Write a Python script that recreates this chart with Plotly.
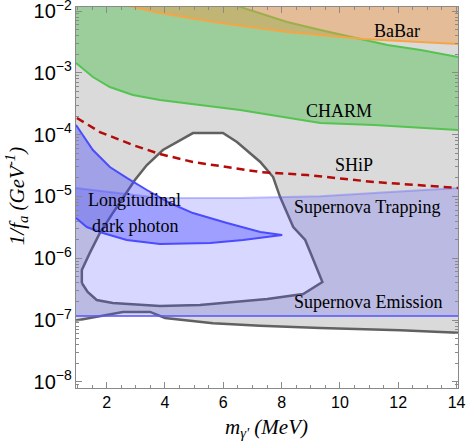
import math
import plotly.graph_objects as go

# ---- data (x in MeV, y in GeV^-1) ----
gray_low_x = [0.95, 2.56, 3.49, 4.0, 5.65, 7.26, 9.33, 12.08, 14.05]
gray_low_y = [9.8e-8, 1.35e-7, 1.35e-7, 1.08e-7, 8.9e-8, 8.1e-8, 7.4e-8, 6.8e-8, 6.2e-8]

island_x = [1.15, 1.15, 1.42, 1.77, 2.21, 2.97, 3.38, 3.93, 4.96, 5.99, 6.47, 7.27, 7.71,
            7.95, 8.40, 8.81, 8.98, 9.19, 9.40, 8.74, 7.51, 5.20, 3.83, 2.21, 1.66, 1.35, 1.15]
island_y = [3.97e-7, 6.44e-7, 1.21e-6, 2.56e-6, 5.38e-6, 1.84e-5, 3.22e-5, 5.64e-5, 1.06e-4,
            1.06e-4, 7.59e-5, 3.61e-5, 2.06e-5, 9.77e-6, 3.20e-6, 1.97e-6, 1.26e-6, 6.93e-7,
            4.12e-7, 2.64e-7, 2.19e-7, 1.75e-7, 1.69e-7, 1.88e-7, 2.11e-7, 2.84e-7, 3.97e-7]

sn_top_x = [0.95, 2.69, 3.83, 6.58, 9.33, 11.73, 14.05]
sn_top_y = [1.37e-5, 1.09e-5, 9.42e-6, 9.42e-6, 1.01e-5, 1.18e-5, 1.37e-5]
sn_bot_x = [0.95, 14.05]
sn_bot_y = [1.16e-7, 1.16e-7]

long_up_x = [0.95, 1.53, 2.11, 2.69, 3.38, 4.17, 4.96, 6.13, 7.27, 8.02]
long_up_y = [1.43e-4, 5.64e-5, 2.99e-5, 1.99e-5, 1.27e-5, 7.82e-6, 5.38e-6, 3.71e-6, 2.66e-6, 2.37e-6]
long_lo_x = [8.02, 6.68, 5.55, 3.83, 2.69, 1.87, 1.32, 0.95]
long_lo_y = [2.37e-6, 1.97e-6, 1.76e-6, 1.70e-6, 1.97e-6, 2.56e-6, 3.20e-6, 4.47e-6]

charm_lo_x = [0.95, 1.53, 2.11, 2.90, 3.83, 6.58, 9.33, 11.18, 14.05]
charm_lo_y = [1.44e-3, 8.55e-4, 5.89e-4, 4.37e-4, 3.63e-4, 2.50e-4, 1.54e-4, 1.43e-4, 1.19e-4]
charm_up_x = [5.5, 6.58, 8.19, 9.33, 10.80, 11.63, 12.77, 14.05]
charm_up_y = [1.7e-2, 1.16e-2, 6.64e-3, 4.93e-3, 3.40e-3, 2.82e-3, 2.34e-3, 1.80e-3]

babar_x = [2.0, 2.90, 3.83, 5.89, 8.19, 10.80, 14.05]
babar_y = [1.5e-2, 1.16e-2, 9.28e-3, 6.39e-3, 4.57e-3, 3.52e-3, 2.92e-3]

ship_x = [0.98, 1.77, 2.90, 3.83, 4.96, 6.13, 7.27, 8.88, 11.18, 14.05]
ship_y = [1.86e-4, 1.10e-4, 6.79e-5, 4.85e-5, 3.61e-5, 2.99e-5, 2.48e-5, 2.22e-5, 1.71e-5, 1.37e-5]

y_top = 0.1

labels = ["BaBar", "CHARM", "SHiP", "Supernova Trapping", "Supernova Emission",
          "Longitudinal", "dark photon"]
label_x = [11.97, 9.98, 10.48, 10.94, 10.97, 2.97, 2.97]
label_y = [4.74e-3, 2.41e-4, 3.22e-5, 6.73e-6, 1.95e-7, 8.75e-6, 3.32e-6]

serif = "Liberation Serif"
gline = "#616161"
fig = go.Figure()

# gray excluded region
fig.add_trace(go.Scatter(x=gray_low_x + gray_low_x[::-1],
                         y=gray_low_y + [y_top] * len(gray_low_x),
                         fill="toself", fillcolor="#dadada", line=dict(width=0),
                         mode="lines", hoverinfo="skip"))
# white island
fig.add_trace(go.Scatter(x=island_x, y=island_y, fill="toself", fillcolor="white",
                         line=dict(color=gline, width=2.5), mode="lines"))
fig.add_trace(go.Scatter(x=gray_low_x, y=gray_low_y, mode="lines",
                         line=dict(color=gline, width=2.5)))

# supernova band
fig.add_trace(go.Scatter(x=sn_top_x + sn_bot_x[::-1], y=sn_top_y + sn_bot_y[::-1],
                         fill="toself", fillcolor="rgba(80,80,255,0.23)",
                         line=dict(width=0), mode="lines"))
fig.add_trace(go.Scatter(x=sn_top_x, y=sn_top_y, mode="lines",
                         line=dict(color="rgba(90,90,255,0.35)", width=2)))
fig.add_trace(go.Scatter(x=sn_bot_x, y=sn_bot_y, mode="lines",
                         line=dict(color="rgba(90,90,255,0.8)", width=2)))

# longitudinal dark photon
fig.add_trace(go.Scatter(x=long_up_x + long_lo_x, y=long_up_y + long_lo_y,
                         fill="toself", fillcolor="rgba(60,60,255,0.36)",
                         line=dict(width=0), mode="lines"))
fig.add_trace(go.Scatter(x=long_up_x + long_lo_x, y=long_up_y + long_lo_y, mode="lines",
                         line=dict(color="rgb(75,75,255)", width=2)))

# CHARM
fig.add_trace(go.Scatter(x=charm_lo_x + charm_up_x[::-1] + [0.95],
                         y=charm_lo_y + charm_up_y[::-1] + [y_top],
                         fill="toself", fillcolor="rgba(80,190,80,0.45)",
                         line=dict(width=0), mode="lines"))
fig.add_trace(go.Scatter(x=charm_lo_x, y=charm_lo_y, mode="lines",
                         line=dict(color="rgb(85,195,80)", width=2)))
fig.add_trace(go.Scatter(x=charm_up_x, y=charm_up_y, mode="lines",
                         line=dict(color="rgb(85,195,80)", width=2)))

# BaBar
fig.add_trace(go.Scatter(x=babar_x + babar_x[::-1], y=babar_y + [y_top] * len(babar_x),
                         fill="toself", fillcolor="rgba(240,150,70,0.45)",
                         line=dict(width=0), mode="lines"))
fig.add_trace(go.Scatter(x=babar_x, y=babar_y, mode="lines",
                         line=dict(color="rgb(245,165,70)", width=2)))

# SHiP
fig.add_trace(go.Scatter(x=ship_x, y=ship_y, mode="lines",
                         line=dict(color="rgb(180,10,10)", width=2.5, dash="8px,5px")))

# region labels (log axis -> annotation y in log10)
for t, lx, ly in zip(labels, label_x, label_y):
    fig.add_annotation(x=lx, y=math.log10(ly), text=t, showarrow=False,
                       font=dict(family=serif, size=18, color="black"))

fig.add_annotation(xref="paper", yref="paper", x=-0.154, y=0.504, textangle=-90,
                   xanchor="center", yanchor="middle",
                   text="<i>1/f<sub>a</sub> (GeV<sup>-1</sup>)</i>", showarrow=False,
                   font=dict(family=serif, size=21, color="black"))
fig.add_annotation(xref="paper", yref="paper", x=0.499, y=-0.105,
                   xanchor="center", yanchor="middle",
                   text="<i>m<sub>γ'</sub> (MeV)</i>", showarrow=False,
                   font=dict(family=serif, size=21, color="black"))

axis_style = dict(showline=True, linecolor="#8a8a8a", linewidth=1, mirror="allticks",
                  ticks="inside", tickcolor="#8a8a8a", showgrid=False, zeroline=False,
                  automargin=False, ticklabeloverflow="allow",
                  tickfont=dict(family="Liberation Sans", size=16, color="black"))

fig.update_xaxes(range=[0.95, 14.05], tick0=2, dtick=2, ticklen=6,
                 minor=dict(dtick=0.5, ticks="inside", ticklen=3, tickcolor="#8a8a8a"),
                 **axis_style)
fig.update_yaxes(type="log", range=[-8.10, -1.935], dtick=1, exponentformat="power",
                 ticklen=6,
                 minor=dict(dtick="D1", ticks="inside", ticklen=3, tickcolor="#8a8a8a"),
                 **axis_style)

fig.update_layout(width=467, height=446, showlegend=False,
                  margin=dict(l=76, r=9, t=7, b=58),
                  plot_bgcolor="white", paper_bgcolor="white")

# drop the browser's default page margin so the figure sits at the window corner
fig.write_html("out.html", config={"displayModeBar": False},
               post_script="document.body.style.margin='0';")
